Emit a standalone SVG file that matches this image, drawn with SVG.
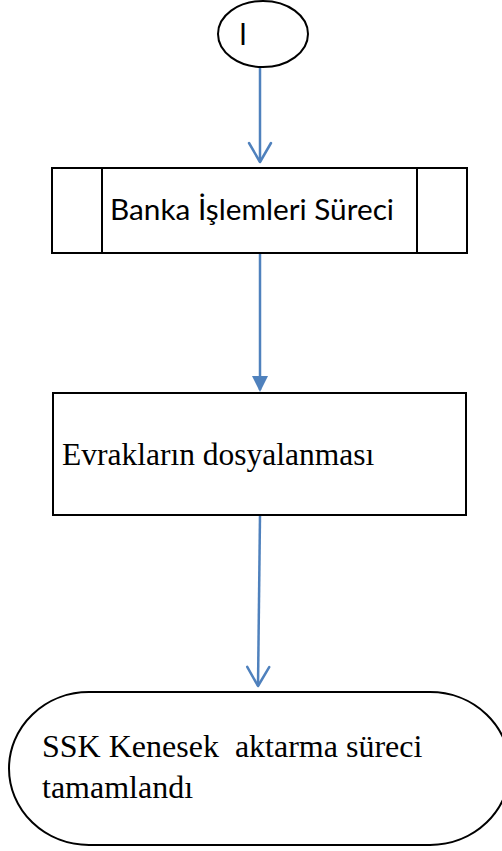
<svg xmlns="http://www.w3.org/2000/svg" width="502" height="851" viewBox="0 0 502 851">
<style>
.shape{fill:#ffffff;stroke:#000000;stroke-width:2}
.conn{stroke:#4F81BD;stroke-width:2.5;fill:none}
.sans{font-family:Lato,"Open Sans","DejaVu Sans",sans-serif;fill:#000}
.serif{font-family:"Liberation Serif","Times New Roman",serif;fill:#000;white-space:pre}
</style>
<defs>
<marker id="open" markerUnits="userSpaceOnUse" viewBox="-23 -13 26 26" refX="0" refY="0" markerWidth="26" markerHeight="26" orient="auto">
<path d="M-19,-11 L0,0 L-19,11" fill="none" stroke="#4F81BD" stroke-width="2.5" stroke-linecap="round" stroke-linejoin="round"/>
</marker>
<marker id="solid" markerUnits="userSpaceOnUse" viewBox="-18 -10 20 20" refX="-2" refY="0" markerWidth="20" markerHeight="20" orient="auto">
<path d="M-16,-8 L0,0 L-16,8 Z" fill="#4F81BD"/>
</marker>
</defs>
<rect width="502" height="851" fill="#ffffff"/>
<g id="connectors">
<line class="conn" x1="260" y1="67" x2="260" y2="162" marker-end="url(#open)"/>
<line class="conn" x1="260" y1="253" x2="260" y2="390" marker-end="url(#solid)"/>
<line class="conn" x1="260" y1="515" x2="258" y2="686" marker-end="url(#open)"/>
</g>
<g id="start">
<ellipse class="shape" cx="263" cy="34" rx="45" ry="33"/>
<text class="sans" x="240" y="45" font-size="30" font-weight="bold" textLength="6" lengthAdjust="spacingAndGlyphs">I</text>
</g>
<g id="banka">
<rect class="shape" x="52" y="168" width="415" height="85"/>
<line x1="102" y1="168" x2="102" y2="253" stroke="#000" stroke-width="2"/>
<line x1="417" y1="168" x2="417" y2="253" stroke="#000" stroke-width="2"/>
<text class="sans" x="110" y="220" font-size="28" textLength="284" lengthAdjust="spacingAndGlyphs">Banka İşlemleri Süreci</text>
</g>
<g id="evrak">
<rect class="shape" x="53" y="393" width="413" height="122"/>
<text class="serif" x="62" y="465" font-size="31.5">Evrakların dosyalanması</text>
</g>
<g id="end">
<path class="shape" d="M89,692 H430 A80 76.5 0 0 1 430,845 H89 A80 76.5 0 0 1 89,692 Z"/>
<text class="serif" x="42" y="757" font-size="32">SSK Kenesek  aktarma süreci</text>
<text class="serif" x="42" y="798" font-size="32">tamamlandı</text>
</g>
</svg>
